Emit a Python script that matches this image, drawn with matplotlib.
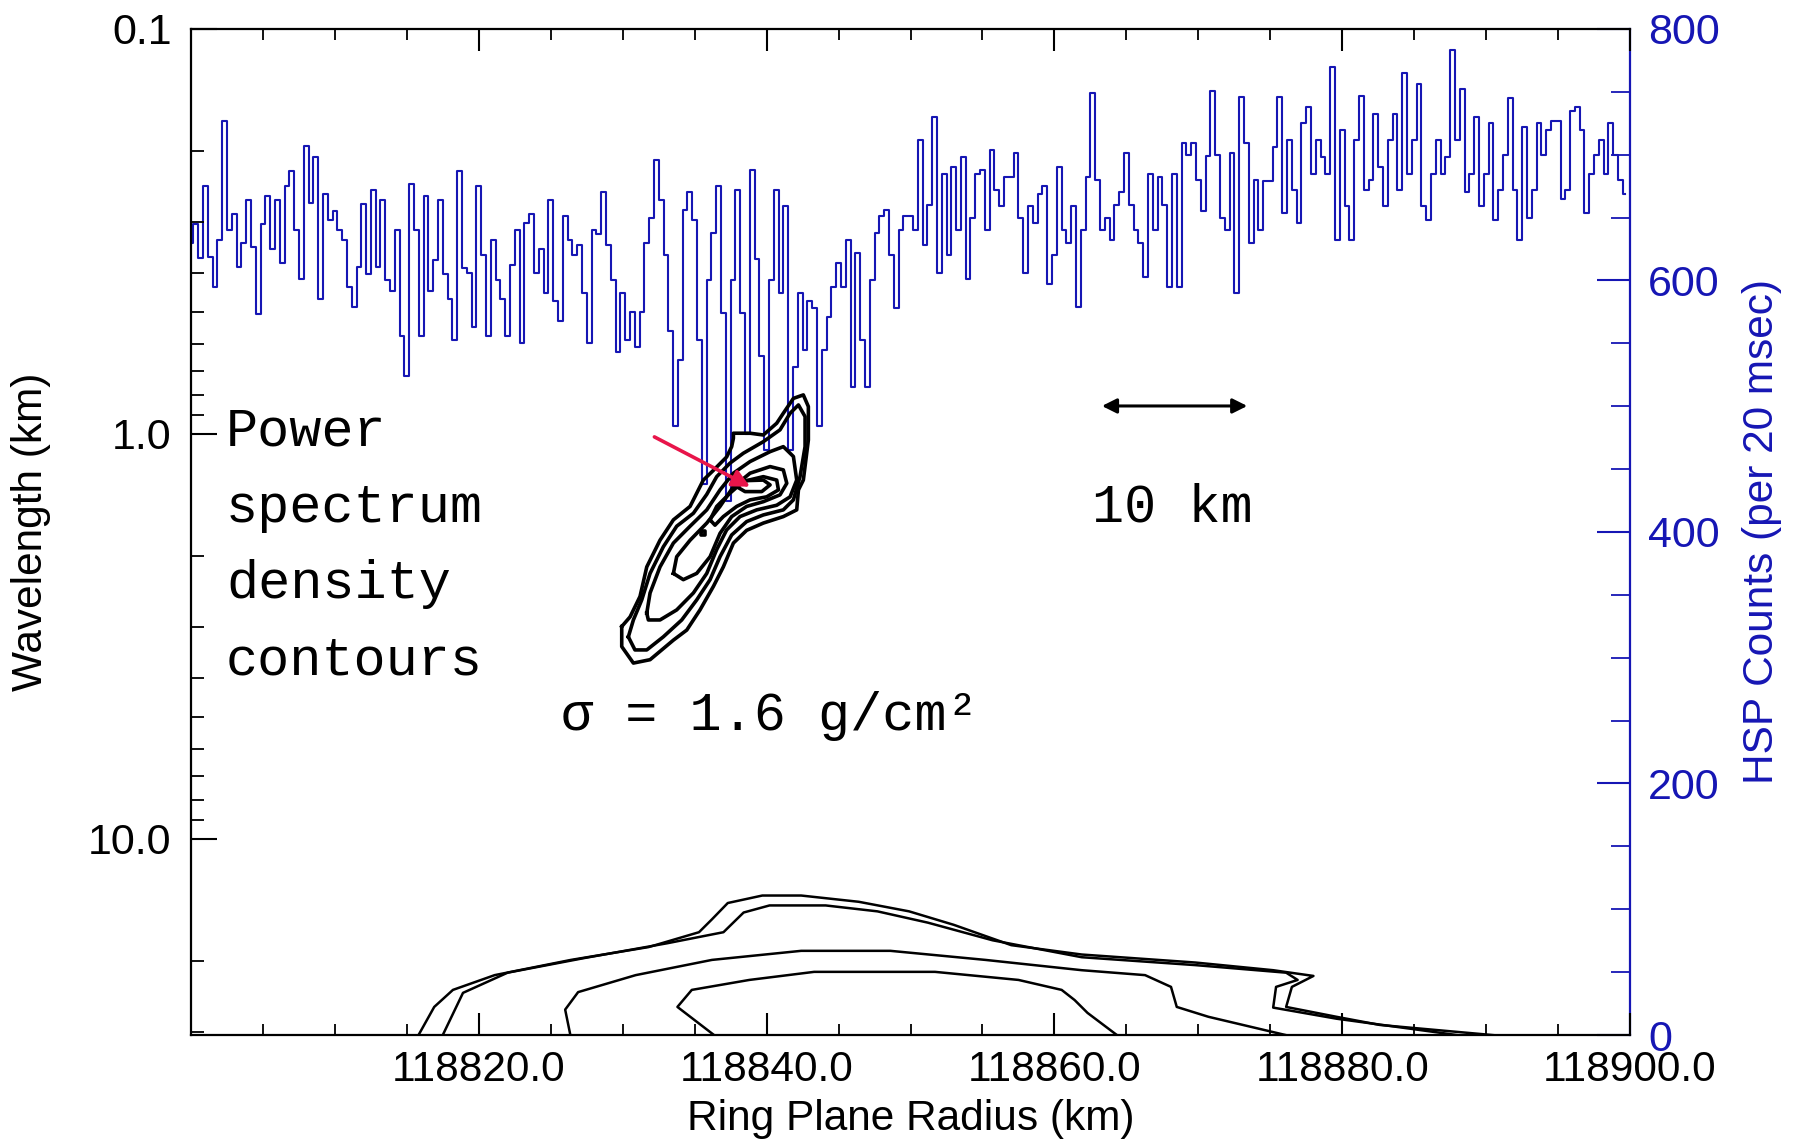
import numpy as np
import matplotlib.pyplot as plt
from matplotlib.ticker import (FixedLocator, MultipleLocator, LogLocator,
                               NullFormatter, FuncFormatter)

plt.rcParams['font.family'] = ['Liberation Sans', 'DejaVu Sans']

# ------------------------------------------------------------------
# data

r0 = 118800.0            # km, left edge of the radius axis
hsp_step_km = 1.0 / 3.0  # spacing of the HSP samples

# HSP counts (per 20 msec), one value every 1/3 km from 118800 km
hsp_counts = [
    630, 645, 618, 675, 619, 595, 632, 727, 640, 653, 611, 630, 664, 627, 573,
    645, 667, 625, 664, 614, 675, 687, 640, 601, 707, 662, 698, 585, 669, 648,
    655, 640, 632, 595, 579, 611, 661, 605, 672, 611, 664, 600, 592, 640, 556,
    524, 677, 640, 556, 667, 592, 616, 664, 605, 585, 553, 687, 610, 606, 563,
    675, 620, 556, 632, 600, 585, 556, 612, 640, 550, 646, 653, 606, 625, 590,
    664, 584, 568, 651, 632, 620, 628, 590, 550, 640, 637, 670, 628, 600, 543,
    590, 553, 575, 547, 575, 630, 650, 696, 664, 620, 560, 484, 537, 656, 670,
    648, 553, 438, 600, 638, 675, 574, 425, 600, 672, 574, 478, 688, 617, 540,
    465, 600, 672, 590, 659, 465, 531, 590, 545, 584, 578, 484, 545, 571, 595,
    614, 595, 632, 515, 622, 553, 515, 600, 638, 651, 656, 620, 578, 640, 651,
    651, 640, 712, 628, 660, 730, 606, 685, 620, 690, 640, 698, 601, 650, 685,
    688, 640, 704, 672, 659, 682, 682, 701, 650, 606, 659, 646, 669, 675, 597,
    620, 690, 640, 630, 659, 579, 640, 682, 749, 680, 640, 650, 632, 660, 670,
    701, 660, 640, 630, 603, 685, 640, 682, 660, 595, 685, 595, 709, 700, 709,
    680, 655, 699, 751, 700, 650, 640, 701, 590, 746, 709, 630, 680, 640, 679,
    679, 706, 746, 654, 712, 672, 646, 725, 738, 685, 712, 698, 685, 770, 632,
    720, 659, 632, 712, 747, 672, 680, 732, 690, 659, 712, 732, 672, 765, 685,
    712, 756, 659, 648, 685, 712, 685, 698, 783, 712, 752, 670, 685, 730, 659,
    685, 725, 648, 672, 700, 745, 672, 632, 722, 650, 672, 725, 700, 720, 727,
    727, 665, 672, 735, 738, 720, 654, 685, 700, 712, 685, 725, 700, 680, 669,
]

# power spectrum contours: (radius - 118800 km, wavelength km)
upper_c1 = [(29.93, 2.99), (30.51, 2.83), (31.20, 2.52), (31.67, 2.13),
            (32.59, 1.83), (33.52, 1.63), (34.68, 1.51), (35.60, 1.30),
            (36.30, 1.23), (37.22, 1.14), (37.57, 1.075), (37.69, 1.025),
            (37.69, 0.996), (38.85, 0.996), (39.77, 1.006), (40.70, 0.941),
            (41.16, 0.889), (41.86, 0.817), (42.55, 0.801), (42.90, 0.856),
            (42.90, 1.035), (42.55, 1.30), (42.21, 1.375), (42.09, 1.54),
            (41.16, 1.60), (39.77, 1.66), (38.61, 1.73), (37.69, 1.86),
            (36.99, 2.13), (36.30, 2.38), (35.37, 2.72), (34.45, 3.05),
            (33.52, 3.23), (31.90, 3.61), (30.74, 3.68), (29.93, 3.35)]
upper_c2 = [(30.39, 3.17), (30.74, 2.88), (31.32, 2.57), (31.90, 2.21),
            (32.82, 1.90), (33.75, 1.69), (34.91, 1.57), (35.84, 1.41),
            (36.53, 1.275), (37.46, 1.18), (38.38, 1.116), (39.77, 1.045),
            (40.93, 0.977), (41.63, 0.889), (42.21, 0.848), (42.67, 0.906),
            (42.67, 1.075), (42.32, 1.275), (41.86, 1.455), (41.16, 1.54),
            (39.77, 1.585), (38.61, 1.646), (37.57, 1.776), (36.76, 2.01),
            (36.07, 2.29), (35.14, 2.57), (34.10, 2.88), (32.82, 3.17),
            (31.67, 3.415), (30.85, 3.415)]
upper_c3 = [(31.67, 2.77), (31.90, 2.47), (32.59, 2.13), (33.52, 1.86),
            (34.68, 1.69), (35.84, 1.54), (36.76, 1.375), (37.69, 1.25),
            (38.85, 1.17), (40.24, 1.106), (41.16, 1.075), (41.86, 1.137),
            (42.09, 1.30), (41.63, 1.43), (40.70, 1.50), (39.31, 1.54),
            (38.15, 1.60), (37.22, 1.726), (36.53, 1.93), (35.84, 2.21),
            (34.91, 2.47), (33.75, 2.72), (32.59, 2.88), (31.78, 2.88)]
upper_c4 = [(33.52, 2.21), (33.75, 2.01), (34.68, 1.83), (35.84, 1.66),
            (36.76, 1.51), (37.69, 1.35), (38.85, 1.25), (40.24, 1.204),
            (41.16, 1.227), (41.40, 1.324), (40.93, 1.414), (39.77, 1.47),
            (38.61, 1.51), (37.57, 1.60), (36.76, 1.76), (36.07, 2.01),
            (35.14, 2.21), (34.21, 2.29)]
upper_c5 = [(36.07, 1.63), (36.53, 1.51), (37.46, 1.40), (38.38, 1.31),
            (39.77, 1.275), (40.70, 1.30), (40.82, 1.375), (40.00, 1.43),
            (38.85, 1.455), (37.92, 1.51), (36.99, 1.60), (36.41, 1.68)]
upper_c6 = [(37.92, 1.35), (38.61, 1.304), (39.77, 1.30), (40.24, 1.336),
            (39.66, 1.388), (38.50, 1.388)]
upper_dot = [(35.45, 1.74), (35.75, 1.74), (35.75, 1.78), (35.45, 1.78)]

lower_a = [(15.7, 31.0), (16.9, 26.0), (18.2, 23.6), (21.1, 21.7), (26.4, 19.9),
           (31.8, 18.5), (35.3, 17.0), (36.2, 15.8), (37.3, 14.4), (39.7, 13.8),
           (42.4, 13.8), (46.4, 14.3), (49.9, 15.1), (53.0, 16.3), (57.0, 18.3),
           (61.9, 19.3), (69.8, 20.2), (75.2, 21.1), (78.0, 21.8), (76.5, 23.2),
           (76.1, 26.0), (79.6, 27.5), (82.6, 28.8), (92.6, 31.0)]
lower_b = [(17.4, 31.0), (18.9, 24.0), (22.0, 21.4), (27.3, 19.7), (33.1, 18.1),
           (37.0, 17.0), (38.4, 15.2), (40.2, 14.6), (44.1, 14.6), (47.7, 15.1),
           (51.2, 16.1), (55.7, 17.8), (61.9, 19.6), (69.8, 20.5), (76.1, 21.4),
           (76.9, 22.3), (75.4, 23.2), (75.2, 26.1), (79.6, 27.8), (89.4, 31.0)]
lower_c = [(26.4, 31.0), (26.0, 26.4), (26.9, 23.9), (30.9, 21.7), (36.2, 19.9),
           (42.4, 18.9), (48.6, 18.9), (55.2, 19.9), (61.9, 21.1), (66.3, 21.7),
           (68.1, 23.2), (68.5, 26.0), (70.7, 27.5), (75.2, 30.0), (76.9, 31.0)]
lower_d = [(36.6, 31.0), (33.8, 26.0), (34.8, 23.6), (38.8, 22.3), (43.3, 21.3),
           (51.7, 21.3), (57.5, 22.3), (60.5, 23.6), (61.4, 25.0), (62.3, 26.9),
           (64.6, 31.0)]

# annotations
scale_bar = (63.3, 73.4, 0.853)           # 10 km bar: start, end, wavelength
peak_arrow_tail = (32.2, 1.017)
peak_arrow_head = (38.85, 1.35)

x_ticks = [118820, 118840, 118860, 118880, 118900]
y_ticks = [0.1, 1.0, 10.0]

# ------------------------------------------------------------------
blue = '#1616b4'

fig = plt.figure(figsize=(17.97, 11.41), dpi=100)
ax = fig.add_axes([0.1063, 0.0929, 0.8008, 0.8817])
ax2 = ax.twinx()
ax.set_zorder(ax2.get_zorder() + 1)
ax.patch.set_visible(False)

# HSP occultation counts
radius = r0 + np.arange(len(hsp_counts)) * hsp_step_km
ax2.plot(radius, hsp_counts, drawstyle='steps-mid', color=blue, lw=1.5)
ax2.set_ylim(0, 800)

# contours
for c in [upper_c1, upper_c2, upper_c3, upper_c4, upper_c5, upper_c6, upper_dot]:
    c = np.array(c + c[:1])
    ax.plot(r0 + c[:, 0], c[:, 1], color='black', lw=2.6)
for c in [lower_a, lower_b, lower_c, lower_d]:
    c = np.array(c)
    ax.plot(r0 + c[:, 0], c[:, 1], color='black', lw=1.8)

ax.set_xlim(r0, r0 + 100)
ax.set_yscale('log')
ax.set_ylim(30.5, 0.1)

ax.xaxis.set_major_locator(FixedLocator(x_ticks))
ax.xaxis.set_major_formatter(FuncFormatter(lambda v, p: f'{v:.1f}'))
ax.xaxis.set_minor_locator(MultipleLocator(5))
ax.yaxis.set_major_locator(FixedLocator(y_ticks))
ax.yaxis.set_major_formatter(FuncFormatter(lambda v, p: f'{v:.1f}'))
ax.yaxis.set_minor_locator(LogLocator(base=10, subs=range(2, 10)))
ax.yaxis.set_minor_formatter(NullFormatter())

ax.tick_params(axis='x', which='major', direction='in', length=16, width=1.5,
               top=True, labelsize=30.5, pad=11)
ax.tick_params(axis='x', which='minor', direction='in', length=8, width=1.3,
               top=True)
ax.tick_params(axis='y', which='major', direction='in', length=19, width=1.5,
               right=False, labelsize=31, pad=14)
ax.tick_params(axis='y', which='minor', direction='in', length=9, width=1.3,
               right=False)

ax2.yaxis.set_major_locator(MultipleLocator(200))
ax2.yaxis.set_minor_locator(MultipleLocator(50))
ax2.tick_params(axis='y', which='major', direction='in', length=24, width=1.5,
                colors=blue, labelsize=31, pad=13)
ax2.tick_params(axis='y', which='minor', direction='in', length=14, width=1.3,
                colors=blue)

for s in ['left', 'top', 'bottom']:
    ax.spines[s].set_linewidth(1.6)
    ax2.spines[s].set_visible(False)
ax.spines['right'].set_visible(False)
ax2.spines['right'].set_color(blue)
ax2.spines['right'].set_linewidth(1.6)

ax.set_xlabel('Ring Plane Radius (km)', fontsize=30.5)
ax.xaxis.set_label_coords(0.5, -0.064)
ax.set_ylabel('Wavelength (km)', fontsize=30.5)
ax.yaxis.set_label_coords(-0.097, 0.5)
ax2.set_ylabel('HSP Counts (per 20 msec)', fontsize=30.5, color=blue)
ax2.yaxis.set_label_coords(1.078, 0.5)

# annotations
mono = 'Liberation Mono'
ax.text(0.0243, 0.486, 'Power\nspectrum\ndensity\ncontours', transform=ax.transAxes,
        family=mono, fontsize=38.5, ha='left', va='center', linespacing=1.68)
ax.text(0.626, 0.524, '10 km', transform=ax.transAxes,
        family=mono, fontsize=38.5, ha='left', va='center')
ax.text(0.257, 0.317, 'σ = 1.6 g/cm²', transform=ax.transAxes,
        family=mono, fontsize=38.5, ha='left', va='center')

ax.annotate('', xy=(r0 + scale_bar[1], scale_bar[2]),
            xytext=(r0 + scale_bar[0], scale_bar[2]),
            arrowprops=dict(arrowstyle='<|-|>', color='black', lw=2.2,
                            mutation_scale=22, shrinkA=0, shrinkB=0))
ax.annotate('', xy=(r0 + peak_arrow_head[0], peak_arrow_head[1]),
            xytext=(r0 + peak_arrow_tail[0], peak_arrow_tail[1]),
            arrowprops=dict(arrowstyle='-|>', color='#e8154a', lw=2.6,
                            mutation_scale=26, shrinkA=0, shrinkB=0))

fig.savefig('out.png', dpi=100)
